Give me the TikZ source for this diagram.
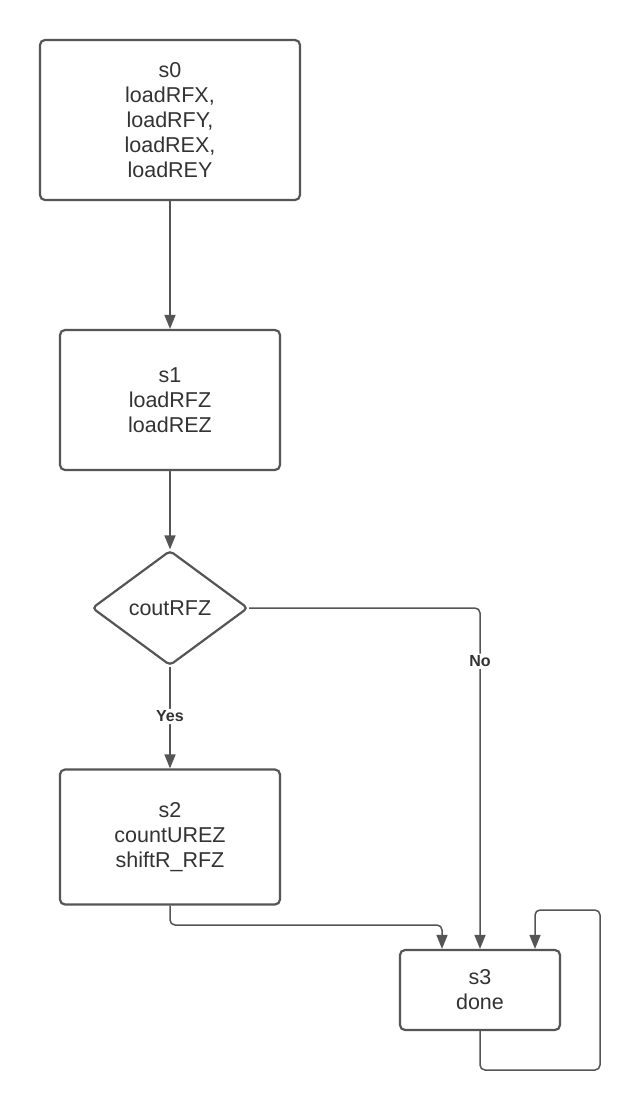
\documentclass[tikz,border=0pt]{standalone}
\usepackage{fontspec}
\setmainfont{Liberation Sans}
\usetikzlibrary{positioning,shapes.geometric,arrows.meta}
\definecolor{linegray}{HTML}{555555}
\definecolor{textgray}{HTML}{333333}
\tikzset{state/.style={draw=linegray,line width=2.2pt,rounded corners=5pt,fill=white,
		text=textgray,align=center,font=\fontsize{21.5}{25}\selectfont},
	decision/.style={diamond,draw=linegray,line width=2.2pt,rounded corners=4pt,
		text=textgray,inner sep=0pt,font=\fontsize{21.5}{25}\selectfont},
	flow/.style={draw=linegray,line width=1.5pt,rounded corners=5pt,
		-{Triangle[length=14pt,width=11pt]}},
	answer/.style={fill=white,text=textgray,inner sep=2pt,font=\bfseries\fontsize{16}{18}\selectfont}}

\begin{document}
\begin{tikzpicture}[x=1pt,y=-1pt]
\useasboundingbox[fill=white] (0,0) rectangle (640,1112);
\node [state,minimum width=260pt,minimum height=160pt] (s0) at (170,120)
	{s0\\loadRFX,\\loadRFY,\\loadREX,\\loadREY};
\node [state,minimum width=220pt,minimum height=140pt] (s1) at (170,400)
	{s1\\loadRFZ\\loadREZ};
\node [decision,minimum width=156pt,minimum height=115pt] (c) at (170,608) {coutRFZ};
\node [state,minimum width=220pt,minimum height=135pt] (s2) at (170,837)
	{s2\\countUREZ\\shiftR\_RFZ};
\node [state,minimum width=160pt,minimum height=80pt] (s3) at (480,990)
	{s3\\done};
% turning points
\coordinate (t1) at (170,925);
\coordinate (t2) at (600,1070);
\coordinate (t3) at (535,910);

\draw [flow] (s0) -- (s1);
\draw [flow] (s1) -- (c);
\draw [flow] (c) -- node[answer,pos=0.49] {Yes} (s2);
\draw [flow] (c.east) -| node[answer,pos=0.578] {No} (s3.north);
\draw [flow] (s2.south) -- (t1) -| ([xshift=-38pt]s3.north);
\draw [flow] (s3.south) |- (t2) |- (t3) -- ([xshift=55pt]s3.north);
\end{tikzpicture}
\end{document}
